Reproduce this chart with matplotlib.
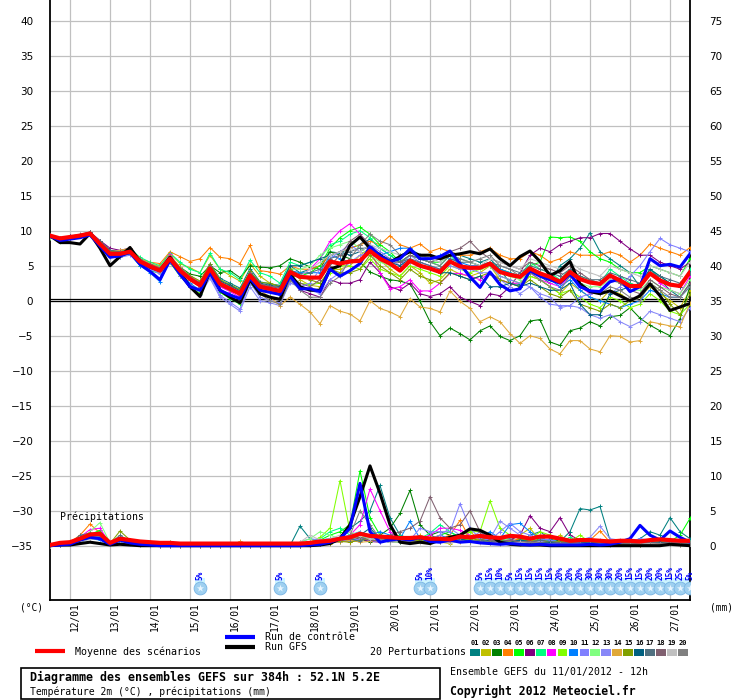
import numpy as np
import matplotlib
matplotlib.use('Agg')
import matplotlib.pyplot as plt
import matplotlib.transforms as mtransforms
from matplotlib.patches import Rectangle

# forecast steps (hours after 11/01/2012 12h), every 6h up to 384h
hours = np.arange(0, 385, 6)

day_hours = [12, 36, 60, 84, 108, 132, 156, 180, 204, 228, 252, 276, 300, 324, 348, 372]
day_labels = ['12/01', '13/01', '14/01', '15/01', '16/01', '17/01', '18/01', '19/01',
              '20/01', '21/01', '22/01', '23/01', '24/01', '25/01', '26/01', '27/01']

# 2m temperature (°C)
t_mean = [9.3, 8.9, 9.1, 9.3, 9.6, 8.1, 6.7, 6.7, 7.0, 5.6, 4.9, 4.3, 6.0, 4.3, 3.1, 2.2, 4.6, 2.4, 1.7, 1.0, 3.6, 2.0,
          1.7, 1.4, 4.1, 3.4, 3.3, 3.3, 5.6, 5.3, 5.6, 5.7, 7.1, 6.0, 5.3, 4.3, 5.7, 5.0, 4.6, 4.1, 5.6, 4.9, 4.7,
          4.7, 5.3, 4.1, 3.7, 3.4, 4.6, 3.9, 3.4, 2.7, 4.1, 3.1, 2.6, 2.4, 3.6, 2.9, 2.1, 2.1, 3.9, 2.9, 2.3, 2.1, 4.1]
t_gfs = [9.3, 8.3, 8.3, 8.1, 9.6, 7.5, 5.0, 6.3, 7.6, 5.6, 4.8, 4.3, 6.2, 4.0, 2.0, 0.6, 4.2, 1.5, 0.5, -0.3, 3.0, 1.0,
         0.5, 0.2, 3.8, 2.0, 1.5, 1.5, 4.5, 5.0, 7.9, 9.1, 7.5, 6.5, 5.5, 6.3, 7.0, 6.5, 6.5, 6.0, 6.5, 6.7, 7.0,
         6.7, 7.4, 6.0, 5.0, 6.3, 7.1, 5.6, 3.6, 4.3, 5.6, 2.4, 1.3, 1.0, 1.4, 0.7, 0.0, 0.7, 2.4, 0.7, -1.4, -0.9, -0.4]
t_ctrl = [9.2, 8.6, 8.8, 9.0, 9.4, 7.8, 6.2, 6.4, 6.9, 5.2, 4.2, 3.0, 5.8, 3.8, 2.0, 1.5, 4.0, 1.5, 0.8, 0.3, 3.2, 1.5,
          1.2, 0.9, 3.5, 1.7, 1.7, 1.3, 4.5, 3.5, 4.3, 5.3, 7.7, 6.4, 5.6, 6.0, 7.4, 6.0, 6.0, 6.3, 7.1, 5.3, 3.4,
          1.9, 4.1, 2.3, 1.4, 1.7, 4.3, 3.5, 3.0, 2.5, 3.8, 2.0, 1.4, 1.3, 2.7, 3.1, 1.3, 2.0, 6.0, 5.0, 5.2, 4.8, 6.7]

t01 = [9.3, 8.7, 9.0, 9.2, 9.7, 7.9, 6.5, 6.9, 7.2, 5.8, 5.0, 4.5, 6.3, 4.6, 3.3, 2.6, 5.2, 3.2, 2.5, 1.8, 4.6, 2.7,
       2.4, 2.2, 5.0, 4.0, 4.5, 5.0, 7.0, 6.8, 7.5, 8.0, 8.8, 7.5, 6.5, 5.5, 6.5, 6.0, 5.5, 6.0, 7.0, 6.5, 6.0,
       5.5, 6.0, 4.5, 2.5, 2.3, 4.0, 3.5, 2.5, 5.0, 6.0, 7.5, 9.7, 7.0, 6.0, 5.0, 4.0, 2.0, 4.5, 3.0, 1.5, 0.5, 2.5]
t02 = [9.2, 8.9, 9.2, 9.4, 9.5, 8.3, 7.0, 6.5, 6.8, 5.9, 5.3, 4.9, 6.8, 5.3, 4.7, 4.0, 6.5, 4.5, 3.6, 2.8, 5.3, 3.5,
       2.5, 2.0, 4.7, 3.0, 2.2, 2.0, 4.3, 4.5, 5.0, 6.5, 7.5, 5.8, 4.5, 3.5, 5.0, 4.0, 2.5, 3.0, 4.5, 3.8, 3.5,
       4.0, 5.0, 3.0, 2.5, 2.0, 3.5, 3.0, 2.0, 1.0, 2.5, 1.5, 0.5, 0.0, 1.5, 1.0, 0.0, 0.5, 2.0, 1.0, 0.0, -1.0, 1.5]
t03 = [9.3, 9.0, 9.1, 9.2, 9.8, 8.5, 7.2, 7.0, 7.2, 5.5, 4.8, 4.5, 6.2, 4.8, 3.8, 3.5, 5.0, 4.0, 4.3, 3.3, 5.0, 4.8,
       4.7, 5.0, 6.0, 5.5, 4.8, 4.5, 7.0, 6.5, 6.0, 5.5, 4.1, 3.5, 3.0, 2.8, 2.4, -0.1, -3.0, -5.0, -3.9, -4.7,
       -5.6, -4.3, -3.6, -5.1, -5.7, -5.0, -2.9, -2.7, -5.9, -6.4, -4.3, -3.9, -3.0, -3.6, -2.3, -2.1, -1.0, -2.5,
       -3.5, -4.3, -5.0, -2.6, 2.1]
t04 = [9.4, 9.0, 9.2, 9.3, 9.5, 8.2, 6.9, 7.0, 7.3, 6.0, 5.5, 5.3, 7.0, 6.3, 5.6, 6.0, 7.6, 6.2, 6.0, 5.3, 7.9, 4.3,
       4.1, 3.8, 5.0, 4.5, 4.5, 5.0, 6.5, 7.0, 7.5, 8.0, 8.5, 8.0, 9.3, 8.0, 7.5, 8.1, 7.0, 7.5, 7.0, 6.5, 6.5,
       7.0, 7.5, 6.5, 6.0, 6.0, 7.0, 6.5, 5.5, 6.0, 7.0, 6.5, 6.5, 6.5, 7.0, 6.5, 5.5, 6.5, 8.1, 7.5, 7.0, 6.5, 7.6]
t05 = [9.2, 8.5, 9.0, 9.3, 9.6, 8.0, 6.5, 6.3, 6.7, 5.0, 4.3, 3.9, 5.5, 3.5, 2.0, 1.0, 3.8, 1.2, 0.3, -0.5, 2.5, 1.0,
       0.5, 0.3, 3.5, 3.5, 4.0, 5.0, 7.5, 9.0, 10.0, 10.5, 9.5, 8.0, 7.0, 5.5, 6.5, 6.0, 5.5, 5.5, 6.5, 6.0, 5.5,
       5.0, 5.5, 4.5, 4.0, 3.5, 5.0, 5.5, 9.1, 9.0, 9.1, 8.5, 7.0, 6.0, 5.5, 4.5, 4.0, 4.0, 5.0, 4.5, 4.0, 3.5, 6.0]
t06 = [9.3, 9.0, 9.2, 9.4, 9.8, 8.6, 7.5, 7.2, 7.5, 6.0, 5.0, 4.6, 6.1, 4.5, 3.0, 2.0, 4.2, 2.0, 1.5, 0.8, 3.4, 1.8,
       1.5, 1.0, 3.5, 1.5, 1.0, 0.5, 3.0, 2.5, 2.5, 3.0, 5.5, 4.0, 2.0, 1.5, 2.5, 1.0, 0.6, 1.0, 2.0, 0.5, -0.1,
       -0.7, 1.0, 0.7, 2.0, 4.0, 6.5, 7.5, 7.0, 8.0, 8.5, 9.0, 9.0, 9.6, 9.6, 8.5, 7.4, 6.5, 6.5, 5.5, 5.0, 4.5, 5.5]
t07 = [9.2, 8.8, 9.0, 9.2, 9.5, 8.0, 6.8, 7.0, 7.4, 6.2, 5.5, 5.0, 6.8, 5.5, 4.5, 4.0, 6.8, 4.5, 4.0, 3.0, 5.8, 4.0,
       3.5, 2.5, 5.5, 5.0, 5.5, 6.0, 8.0, 8.5, 9.5, 10.0, 9.0, 7.5, 6.5, 5.5, 6.5, 6.0, 5.5, 5.0, 6.5, 5.0, 4.5,
       5.0, 5.5, 4.5, 4.0, 3.5, 5.5, 4.5, 4.0, 3.0, 4.5, 3.5, 3.0, 2.5, 4.5, 3.5, 2.5, 2.0, 4.5, 3.5, 2.5, 2.0, 4.5]
t08 = [9.3, 9.0, 9.2, 9.4, 9.6, 8.0, 6.6, 6.8, 7.1, 5.8, 5.0, 4.5, 6.7, 4.5, 3.0, 2.0, 4.5, 2.0, 1.3, 0.5, 3.5, 2.0,
       1.5, 1.2, 4.0, 3.5, 4.5, 6.0, 8.5, 10.0, 11.0, 9.5, 7.5, 4.0, 1.7, 2.0, 3.0, 1.4, 1.4, 2.5, 3.9, 3.9, 3.5,
       3.0, 4.0, 3.0, 2.5, 2.5, 4.0, 3.0, 2.5, 2.0, 3.5, 2.0, 1.0, 1.5, 3.0, 2.5, 2.0, 2.0, 4.0, 2.5, 1.5, 1.0, 3.5]
t09 = [9.2, 8.8, 9.0, 9.3, 9.5, 8.0, 6.6, 6.6, 6.8, 5.4, 4.6, 4.0, 5.5, 3.6, 2.4, 1.3, 4.0, 1.5, 0.5, -0.2, 3.0, 1.0,
       0.5, 0.2, 3.4, 2.5, 2.3, 2.5, 4.0, 5.0, 5.0, 4.5, 6.0, 4.5, 4.0, 3.5, 5.0, 4.5, 4.0, 3.5, 5.0, 4.5, 4.0,
       4.5, 5.0, 3.5, 3.0, 2.5, 3.5, 3.0, 2.0, 1.0, 1.5, 0.5, -0.5, -1.0, 0.5, 0.0, -1.0, -0.5, 1.0, 0.0, -1.5, -2.0,
       -0.5]
t10 = [9.3, 8.9, 9.1, 9.3, 9.5, 7.9, 6.4, 6.5, 6.7, 5.0, 4.0, 2.7, 5.8, 4.0, 2.5, 1.5, 4.0, 1.5, 1.0, 0.2, 3.2, 1.5,
       1.2, 0.8, 4.3, 4.0, 4.0, 4.0, 6.5, 6.0, 5.5, 5.8, 7.0, 6.5, 7.0, 7.5, 7.5, 6.5, 6.0, 6.5, 6.0, 5.5, 5.0,
       5.0, 5.5, 4.5, 4.0, 3.5, 4.5, 3.5, 3.0, 2.0, 3.0, 1.5, 0.5, 0.0, -0.5, -1.0, -0.5, 0.0, 1.5, 1.0, 0.5, 0.5, 2.0]
t11 = [9.3, 8.8, 9.0, 9.2, 9.4, 7.7, 6.3, 6.2, 6.5, 5.2, 4.5, 4.0, 5.6, 3.8, 2.3, 1.4, 3.5, 0.8, -0.2, -1.2, 2.6, 0.5,
       0.0, -0.3, 2.5, 2.0, 2.5, 4.5, 6.0, 7.0, 8.0, 7.0, 8.0, 7.0, 6.0, 5.0, 6.5, 5.5, 5.0, 4.5, 5.5, 4.5, 4.5,
       5.0, 5.0, 3.5, 3.0, 2.5, 2.0, 0.5, -0.5, -0.7, -0.7, 0.5, 1.0, 1.5, 1.0, 2.0, 3.5, 5.0, 7.0, 8.9, 8.0, 7.5, 7.0]
t12 = [9.0, 8.4, 8.9, 9.3, 9.5, 8.0, 6.6, 6.8, 7.0, 5.5, 4.8, 4.2, 5.9, 4.3, 3.2, 2.5, 4.8, 2.6, 1.8, 1.2, 3.6, 2.2,
       1.8, 1.5, 4.5, 4.5, 5.0, 6.5, 7.5, 8.0, 8.5, 7.5, 6.5, 5.5, 5.0, 4.5, 5.5, 5.0, 4.5, 4.0, 5.5, 5.0, 4.8,
       4.5, 5.0, 4.0, 3.5, 3.0, 4.0, 3.5, 3.0, 2.5, 3.5, 2.5, 2.0, 2.0, 3.0, 2.5, 1.5, 1.5, 3.0, 2.0, 1.5, 1.0, 3.0]
t13 = [9.3, 8.9, 9.1, 9.3, 9.7, 8.2, 6.8, 6.5, 6.8, 5.5, 4.5, 3.8, 5.8, 3.5, 2.0, 0.8, 3.2, 0.5, -0.5, -1.5, 2.0, 0.0,
       -0.3, -0.7, 2.8, 2.0, 1.5, 1.0, 3.0, 4.0, 5.5, 6.5, 7.0, 6.0, 5.5, 5.0, 5.5, 5.5, 5.0, 4.5, 5.0, 4.5, 4.5,
       4.0, 4.0, 3.0, 2.0, 1.0, 2.0, 1.0, 0.5, -1.0, -0.7, -1.0, -2.0, -2.5, -2.0, -3.0, -3.7, -3.0, -1.5, -2.0,
       -2.5, -3.0, -1.0]
t14 = [9.3, 8.8, 9.1, 9.4, 9.6, 8.3, 7.0, 7.2, 7.5, 6.0, 5.3, 4.8, 6.5, 4.8, 3.5, 2.8, 5.0, 2.8, 2.2, 1.5, 3.8, 1.5,
       0.5, -0.7, 0.5, -0.5, -1.6, -3.3, -0.7, -1.5, -1.9, -2.9, 0.0, -1.1, -1.6, -2.3, 0.3, -0.9, -1.1, -1.6, 1.4,
       -0.1, -1.1, -3.0, -2.3, -3.0, -4.7, -6.1, -5.0, -5.4, -6.9, -7.6, -5.7, -5.7, -6.9, -7.3, -5.0, -5.1, -5.9,
       -5.7, -3.0, -3.3, -3.6, -3.7, -0.4]
t15 = [9.3, 8.9, 9.0, 9.2, 9.6, 8.4, 7.1, 6.9, 7.0, 5.7, 5.2, 4.6, 6.2, 4.6, 3.6, 2.8, 5.3, 3.0, 2.3, 1.6, 4.2, 2.6,
       2.5, 2.0, 4.5, 3.5, 3.0, 2.5, 4.5, 4.0, 4.0, 4.5, 6.5, 5.0, 4.0, 3.0, 4.5, 3.5, 3.0, 2.5, 4.0, 3.5, 3.0,
       3.5, 4.0, 3.0, 2.5, 2.0, 3.0, 2.0, 1.0, 0.5, 1.5, -0.5, -1.0, -1.5, -0.5, -1.0, 0.0, 0.5, 2.5, 1.5, -0.5,
       -2.0, 1.0]
t16 = [9.4, 9.0, 9.2, 9.3, 9.7, 8.0, 6.5, 6.8, 7.1, 5.6, 4.9, 4.4, 6.1, 4.4, 3.2, 2.4, 5.0, 2.8, 2.2, 1.4, 4.0, 2.5,
       2.2, 2.0, 5.0, 5.0, 5.5, 6.0, 6.5, 7.0, 6.5, 7.0, 8.0, 6.5, 5.5, 5.0, 6.0, 5.0, 4.5, 4.0, 4.0, 3.5, 3.0,
       3.5, 2.0, 2.0, 2.5, 2.0, 2.5, 2.0, 1.5, 1.5, 2.5, -0.5, -2.0, -2.0, 1.0, 1.5, 2.0, 2.5, 4.5, 3.5, 2.5, 2.0, 4.0]
t17 = [9.3, 8.8, 9.0, 9.4, 9.8, 8.5, 7.2, 7.0, 7.2, 5.8, 5.1, 4.6, 6.3, 4.6, 3.3, 2.5, 4.8, 2.6, 1.9, 1.2, 3.8, 2.3,
       2.0, 1.8, 4.3, 3.8, 4.0, 4.5, 6.0, 6.5, 7.0, 7.5, 7.5, 6.5, 6.0, 5.5, 6.0, 5.5, 5.0, 4.5, 6.0, 5.5, 5.5,
       5.0, 5.5, 5.0, 4.5, 4.0, 5.0, 4.5, 4.0, 3.5, 4.5, 3.5, 3.0, 3.0, 4.0, 3.5, 3.0, 2.5, 4.0, 3.5, 3.0, 2.5, 4.0]
t18 = [9.3, 8.9, 9.2, 9.5, 9.8, 8.3, 6.9, 6.9, 7.2, 5.9, 5.2, 4.7, 6.4, 4.7, 3.4, 2.6, 4.9, 2.7, 2.0, 1.3, 3.9, 2.4,
       2.1, 1.9, 3.5, 2.5, 2.0, 3.0, 5.0, 6.5, 8.5, 9.5, 8.0, 6.5, 5.5, 5.5, 6.5, 6.0, 5.5, 6.0, 7.0, 7.5, 8.5,
       7.0, 6.0, 5.5, 5.0, 4.5, 5.5, 5.0, 4.5, 4.0, 5.0, 4.0, 3.0, 2.5, 3.5, 2.5, 1.5, 1.0, 3.0, 2.0, 1.0, 0.5, 2.5]
t19 = [9.3, 8.9, 9.1, 9.3, 9.5, 8.0, 6.7, 6.6, 6.9, 5.5, 4.8, 4.3, 6.0, 4.2, 3.0, 2.1, 4.4, 2.2, 1.6, 0.9, 3.5, 2.0,
       1.6, 1.3, 4.0, 3.5, 4.5, 5.5, 6.5, 7.0, 7.5, 7.0, 8.0, 7.5, 7.0, 6.5, 7.0, 6.5, 6.0, 5.5, 6.5, 6.0, 5.5,
       5.0, 6.0, 5.5, 5.0, 4.5, 6.0, 5.5, 5.0, 4.5, 5.5, 4.5, 4.0, 3.5, 5.0, 4.5, 4.0, 3.5, 5.0, 4.5, 4.0, 3.5, 5.5]
t20 = [9.3, 8.9, 9.1, 9.3, 9.6, 8.2, 6.8, 6.7, 7.0, 5.6, 4.9, 4.3, 6.0, 4.2, 3.0, 2.0, 4.5, 2.2, 1.5, 0.8, 3.4, 1.0,
       0.0, -0.5, 3.0, 1.5, 0.5, 0.5, 2.5, 3.5, 6.0, 8.0, 9.5, 8.5, 8.0, 6.5, 7.0, 6.0, 5.5, 5.0, 6.5, 6.0, 5.5,
       6.0, 6.5, 5.0, 4.5, 3.5, 4.0, 3.0, 2.0, 1.5, 3.5, 2.5, 1.5, 1.0, 2.0, 1.5, 0.5, 0.0, 2.5, 1.5, 0.5, 0.5, 2.0]

# precipitation (mm per 6h)
p_mean = [0.1, 0.4, 0.5, 1.0, 1.6, 1.7, 0.4, 1.0, 0.8, 0.6, 0.5, 0.4, 0.4, 0.3, 0.3, 0.3, 0.3, 0.3, 0.3, 0.3, 0.3,
          0.3, 0.3, 0.3, 0.3, 0.3, 0.4, 0.6, 0.7, 1.0, 1.2, 1.7, 1.4, 1.3, 1.2, 1.1, 1.1, 1.2, 1.0, 1.0, 0.9, 1.3,
          1.2, 1.4, 1.2, 1.1, 1.4, 1.3, 1.0, 1.3, 1.3, 1.0, 0.7, 0.8, 0.8, 0.7, 0.6, 0.7, 0.7, 0.6, 0.8, 0.9, 0.8,
          0.7, 0.7]
p_gfs = [0, 0.1, 0.1, 0.3, 0.5, 0.3, 0.1, 0.2, 0.1, 0, 0, 0, 0, 0, 0, 0, 0, 0, 0, 0, 0, 0, 0, 0, 0, 0, 0, 0.1, 0.3,
         1.0, 3.0, 7.0, 11.4, 7.5, 3.0, 0.5, 0.3, 0.5, 0.3, 0.8, 1.2, 1.5, 2.4, 2.2, 1.5, 0.5, 0.2, 0.1, 0.1, 0.1,
         0, 0, 0, 0, 0, 0, 0, 0, 0, 0, 0, 0, 0.2, 0.1, 0]
p_ctrl = [0, 0.1, 0.2, 0.8, 1.2, 1.0, 0.2, 0.8, 0.4, 0.2, 0.1, 0, 0, 0, 0, 0, 0, 0, 0, 0, 0, 0, 0, 0, 0, 0, 0.1, 0.2,
          0.5, 1.0, 2.5, 8.9, 2.0, 0.5, 0.8, 1.0, 0.8, 1.2, 0.6, 0.5, 0.8, 0.5, 0.6, 0.4, 0.3, 0.2, 0.3, 0.2, 0.1,
          0.2, 0.1, 0.1, 0.1, 0.1, 0.2, 0.1, 0.2, 0.5, 1.0, 2.9, 1.5, 0.8, 2.1, 1.2, 0.5]

p01 = [0, 0.2, 0.4, 1.2, 1.5, 2.0, 0.3, 1.2, 0.6, 0.3, 0.2, 0.1, 0, 0, 0, 0, 0, 0, 0, 0, 0, 0, 0, 0, 0, 2.8, 1.0, 0.5,
       1.0, 0.8, 2.5, 3.5, 5.0, 8.6, 4.0, 1.5, 1.0, 0.8, 1.5, 1.0, 0.5, 0.8, 1.2, 1.0, 0.6, 0.8, 1.0, 0.5, 1.5,
       2.0, 1.0, 0.6, 2.0, 5.3, 5.1, 5.6, 0.8, 0.6, 0.4, 1.0, 2.0, 1.5, 4.0, 2.0, 1.0]
p02 = [0, 0.1, 0.3, 0.8, 1.2, 1.2, 0.2, 0.9, 0.5, 0.2, 0.1, 0, 0, 0, 0, 0, 0, 0, 0, 0, 0, 0, 0, 0, 0, 0, 0.2, 0.5,
       0.3, 0.8, 0.5, 1.2, 0.8, 1.0, 1.5, 0.8, 0.5, 1.5, 0.8, 0.5, 0.3, 0.8, 2.0, 0.8, 1.0, 0.5, 0.8, 1.5, 2.5,
       0.8, 0.5, 1.5, 0.5, 0.3, 0.2, 0.3, 0.2, 0.5, 0.4, 0.2, 0.5, 0.8, 0.3, 0.5, 0.4]
p03 = [0, 0.1, 0.3, 0.9, 1.3, 1.5, 0.2, 1.0, 0.4, 0.2, 0.1, 0, 0, 0, 0, 0, 0, 0, 0, 0, 0, 0, 0, 0, 0, 0, 0.1, 0.3,
       0.5, 0.6, 0.8, 1.0, 0.5, 1.5, 2.5, 4.6, 7.9, 3.0, 1.5, 2.0, 1.5, 1.0, 0.5, 0.8, 1.2, 0.8, 0.5, 1.0, 0.6,
       0.8, 1.5, 0.5, 0.8, 0.3, 0.2, 0.2, 0.3, 0.2, 0.2, 0.1, 0.3, 0.5, 0.3, 0.2, 0.5]
p04 = [0, 0.2, 0.5, 1.5, 3.1, 1.8, 0.3, 1.0, 0.5, 0.3, 0.2, 0.1, 0.1, 0.1, 0.1, 0.3, 0, 0, 0, 0, 0, 0, 0, 0, 0, 0,
       0.2, 0.3, 0.5, 0.8, 0.5, 1.0, 1.5, 0.8, 0.5, 0.8, 1.0, 0.5, 0.8, 1.0, 1.5, 3.6, 1.0, 1.2, 0.8, 0.5, 0.6,
       1.0, 0.8, 0.5, 0.6, 0.3, 0.5, 0.2, 0.8, 2.1, 0.5, 0.3, 0.2, 0.3, 0.5, 1.0, 0.4, 0.3, 0.2]
p05 = [0, 0.1, 0.3, 1.0, 1.6, 2.2, 0.4, 1.0, 0.5, 0.2, 0.1, 0, 0, 0, 0, 0, 0, 0, 0, 0, 0, 0, 0, 0, 0, 0.1, 0.3, 0.8,
       1.5, 2.0, 3.0, 10.7, 4.0, 1.5, 0.8, 1.5, 0.8, 0.5, 1.0, 1.5, 2.0, 1.2, 0.8, 0.5, 1.0, 0.8, 0.5, 0.6, 1.2,
       0.8, 1.5, 0.8, 0.6, 0.5, 0.4, 0.5, 0.3, 0.6, 0.5, 0.4, 0.8, 1.0, 0.6, 1.5, 3.9]
p06 = [0, 0.1, 0.3, 0.8, 1.4, 1.5, 0.2, 0.8, 0.4, 0.2, 0.1, 0, 0, 0, 0, 0, 0, 0, 0, 0, 0, 0, 0, 0, 0, 0, 0.1, 0.2,
       0.4, 0.6, 0.8, 1.0, 0.6, 0.5, 0.8, 1.0, 0.5, 0.8, 1.0, 0.6, 0.5, 0.8, 1.0, 1.2, 0.8, 1.0, 0.8, 1.5, 4.3,
       2.5, 2.0, 4.0, 1.5, 0.8, 0.5, 0.3, 0.5, 0.4, 0.3, 0.2, 0.5, 0.8, 0.5, 0.3, 0.4]
p07 = [0, 0.1, 0.2, 0.7, 1.1, 1.3, 0.2, 0.7, 0.4, 0.2, 0.1, 0, 0, 0, 0, 0, 0, 0, 0, 0, 0, 0, 0, 0, 0, 0.2, 0.4, 1.0,
       2.0, 2.5, 1.5, 2.0, 1.0, 0.8, 0.5, 1.5, 0.8, 1.0, 1.8, 3.0, 2.0, 1.0, 0.8, 0.5, 1.0, 0.6, 0.8, 0.5, 1.0,
       0.5, 0.8, 0.5, 1.2, 0.4, 0.3, 0.3, 0.5, 0.3, 0.2, 0.2, 0.3, 0.4, 0.5, 0.3, 0.4]
p08 = [0, 0.2, 0.4, 1.2, 2.3, 2.5, 0.3, 1.2, 0.5, 0.3, 0.2, 0, 0, 0, 0, 0, 0, 0, 0, 0, 0, 0, 0, 0, 0, 0, 0.1, 0.3,
       0.8, 1.0, 1.5, 3.0, 8.1, 5.0, 2.0, 0.8, 0.5, 1.0, 1.5, 2.5, 2.5, 2.2, 1.5, 1.0, 0.8, 0.5, 0.8, 0.6, 0.4,
       0.8, 0.5, 0.3, 0.4, 0.3, 0.2, 0.2, 0.3, 0.2, 0.1, 0.2, 0.3, 0.4, 0.2, 0.3, 0.2]
p09 = [0, 0.1, 0.3, 0.9, 1.3, 1.6, 0.3, 0.9, 0.5, 0.2, 0.1, 0, 0, 0, 0, 0, 0, 0, 0, 0, 0, 0, 0, 0, 0, 0.2, 0.5, 1.2,
       2.5, 9.3, 2.0, 1.0, 1.5, 0.8, 0.6, 0.5, 1.0, 0.8, 0.6, 0.8, 1.0, 1.5, 2.0, 2.0, 6.4, 2.5, 1.5, 1.0, 0.8,
       2.0, 1.5, 0.8, 0.6, 1.5, 0.5, 0.3, 0.8, 0.5, 0.4, 0.3, 0.4, 0.5, 0.6, 0.4, 0.5]
p10 = [0, 0.2, 0.3, 0.5, 1.0, 0.8, 0.2, 0.5, 0.3, 0.1, 0, 0, 0, 0, 0, 0, 0, 0, 0, 0, 0, 0, 0, 0, 0, 0.3, 0.5, 0.8,
       1.0, 0.5, 1.0, 0.8, 1.5, 2.0, 1.5, 1.0, 3.5, 1.0, 0.8, 1.5, 1.0, 0.8, 1.5, 1.2, 2.0, 1.0, 3.0, 3.2, 2.0,
       1.0, 0.8, 0.5, 0.3, 0.5, 0.4, 0.3, 0.2, 0.3, 0.5, 1.0, 0.5, 0.8, 0.5, 0.4, 0.3]
p11 = [0, 0.1, 0.3, 0.8, 1.2, 1.3, 0.2, 0.8, 0.4, 0.2, 0.1, 0, 0, 0, 0, 0, 0, 0, 0, 0, 0, 0, 0, 0, 0, 0.5, 1.0, 0.8,
       0.5, 0.8, 0.6, 1.0, 0.8, 0.5, 0.8, 1.0, 0.8, 2.5, 2.0, 2.0, 2.0, 6.0, 2.5, 1.0, 0.8, 2.0, 3.2, 2.0, 1.5,
       1.0, 0.8, 0.5, 0.6, 0.4, 0.5, 0.8, 0.5, 0.4, 0.6, 1.0, 0.8, 0.5, 0.4, 0.3, 0.5]
p12 = [0, 0.1, 0.3, 1.0, 2.0, 3.3, 0.4, 1.2, 0.6, 0.3, 0.2, 0.1, 0, 0, 0, 0, 0, 0, 0, 0, 0, 0, 0, 0, 0, 0.5, 1.0, 2.0,
       1.5, 1.0, 0.8, 1.5, 1.0, 0.8, 0.6, 0.5, 0.8, 1.0, 0.6, 0.5, 0.8, 1.0, 1.5, 0.8, 0.6, 1.0, 0.8, 0.5, 0.6,
       0.4, 0.5, 0.4, 0.3, 0.3, 0.2, 0.3, 0.2, 0.3, 0.2, 0.2, 0.3, 0.4, 0.3, 0.2, 0.3]
p13 = [0, 0.1, 0.2, 0.6, 1.0, 1.0, 0.2, 0.6, 0.3, 0.1, 0, 0, 0, 0, 0, 0, 0, 0, 0, 0, 0, 0, 0, 0, 0, 0.3, 0.5, 0.8,
       1.0, 1.2, 1.5, 2.0, 1.2, 0.8, 0.5, 0.8, 0.6, 1.2, 1.0, 1.5, 2.5, 1.5, 1.0, 2.0, 1.0, 3.5, 2.5, 1.5, 1.0,
       0.6, 0.5, 0.4, 0.6, 0.8, 1.2, 2.8, 1.0, 0.8, 0.5, 0.4, 0.5, 0.4, 0.3, 0.4, 0.3]
p14 = [0, 0.1, 0.3, 0.8, 1.2, 1.2, 0.2, 0.8, 0.4, 0.2, 0.1, 0, 0, 0, 0, 0, 0, 0, 0, 0.6, 0.2, 0, 0, 0, 0, 0, 0.2,
       0.4, 0.6, 0.5, 0.8, 0.5, 0.6, 1.0, 0.8, 0.5, 0.8, 0.6, 0.4, 0.6, 0.8, 0.5, 0.6, 0.8, 0.5, 0.4, 0.6, 0.5,
       0.3, 0.5, 0.3, 0.2, 0.3, 0.2, 0.3, 0.2, 0.3, 0.2, 0.2, 0.1, 0.2, 0.3, 0.2, 0.1, 0.2]
p15 = [0, 0.1, 0.3, 0.9, 1.5, 1.8, 0.3, 2.1, 0.8, 0.4, 0.3, 0.2, 0.5, 0.2, 0.1, 0.1, 0, 0, 0, 0, 0, 0, 0, 0, 0, 0,
       0.2, 0.5, 0.8, 0.6, 0.5, 0.8, 1.0, 0.6, 0.8, 1.0, 0.6, 0.8, 1.2, 0.8, 0.6, 0.8, 1.0, 0.8, 1.2, 0.8, 1.5,
       1.0, 0.6, 0.8, 0.5, 0.6, 0.4, 0.3, 0.5, 0.4, 0.3, 0.5, 0.4, 0.3, 0.5, 0.6, 0.4, 0.3, 0.4]
p16 = [0, 0.1, 0.2, 0.7, 1.0, 1.2, 0.2, 0.8, 0.4, 0.2, 0.1, 0, 0, 0, 0, 0, 0, 0, 0, 0, 0, 0, 0, 0, 0, 0, 0.2, 0.4,
       1.0, 0.8, 1.0, 1.5, 2.5, 1.0, 0.8, 0.5, 0.8, 1.0, 0.8, 0.6, 0.8, 1.0, 0.6, 0.5, 0.8, 0.6, 0.5, 0.8, 0.6,
       0.4, 0.5, 0.4, 0.3, 0.4, 0.5, 0.3, 0.4, 0.3, 0.2, 0.3, 0.4, 0.5, 0.3, 0.2, 0.3]
p17 = [0, 0.1, 0.3, 1.5, 1.8, 1.6, 0.3, 1.5, 0.6, 0.3, 0.2, 0.1, 0, 0, 0, 0, 0, 0, 0, 0, 0, 0, 0, 0, 0, 0, 0.1, 0.3,
       0.4, 0.8, 1.0, 0.6, 1.5, 0.8, 0.5, 0.6, 0.8, 0.5, 0.6, 1.0, 0.8, 0.6, 0.5, 0.8, 0.6, 0.5, 0.4, 0.6, 0.5,
       0.8, 0.6, 0.4, 0.5, 0.3, 0.4, 0.3, 0.2, 0.3, 0.4, 0.3, 0.5, 0.4, 0.3, 0.3, 0.2]
p18 = [0, 0.1, 0.2, 0.8, 1.1, 1.3, 0.2, 0.8, 0.4, 0.2, 0.1, 0, 0, 0, 0, 0, 0, 0, 0, 0, 0, 0, 0, 0, 0, 0, 0.1, 0.3,
       0.5, 0.8, 1.0, 1.2, 0.8, 0.6, 1.5, 2.0, 2.5, 3.5, 7.0, 4.0, 2.5, 3.0, 5.0, 2.0, 0.8, 0.6, 0.8, 0.5, 0.6,
       0.4, 0.3, 0.4, 0.3, 0.2, 0.3, 0.2, 0.3, 0.2, 0.3, 0.2, 0.4, 0.3, 0.5, 0.3, 0.2]
p19 = [0, 0.1, 0.2, 0.6, 0.9, 1.0, 0.1, 0.6, 0.3, 0.1, 0, 0, 0, 0, 0, 0, 0, 0, 0, 0, 0, 0, 0, 0, 0, 0.5, 1.5, 0.8,
       1.0, 1.5, 2.0, 1.5, 1.0, 0.8, 0.5, 0.6, 0.5, 0.4, 0.6, 0.5, 0.4, 0.6, 0.5, 0.4, 0.3, 0.4, 0.3, 0.5, 0.4,
       0.3, 0.3, 0.2, 0.3, 0.2, 0.2, 0.2, 0.3, 0.2, 0.1, 0.2, 0.3, 0.2, 0.2, 0.1, 0.2]
p20 = [0, 0.1, 0.3, 1.0, 1.4, 1.5, 0.3, 1.0, 0.5, 0.2, 0.1, 0, 0, 0, 0, 0, 0, 0, 0, 0, 0, 0, 0, 0, 0, 0, 0.2, 0.3,
       0.5, 0.8, 1.5, 5.0, 3.0, 1.0, 0.6, 0.8, 0.5, 0.6, 0.8, 0.5, 0.6, 0.8, 0.5, 0.6, 0.4, 0.3, 0.4, 0.3, 0.5,
       0.4, 0.3, 0.2, 0.3, 0.2, 0.1, 0.2, 0.1, 0.2, 0.1, 0.1, 0.2, 0.3, 0.2, 0.1, 0.2]

member_names = ['01', '02', '03', '04', '05', '06', '07', '08', '09', '10',
                '11', '12', '13', '14', '15', '16', '17', '18', '19', '20']
member_colors = ['#008080', '#c0c000', '#008000', '#ff8000', '#00ff00', '#800080', '#00ff80', '#ff00ff',
                 '#80ff00', '#0080ff', '#8080ff', '#80ff80', '#8888f8', '#e0a838', '#80a000', '#006080',
                 '#507080', '#806070', '#c0c0c0', '#808080']
member_temps = [t01, t02, t03, t04, t05, t06, t07, t08, t09, t10, t11, t12, t13, t14, t15, t16, t17, t18, t19, t20]
member_precs = [p01, p02, p03, p04, p05, p06, p07, p08, p09, p10, p11, p12, p13, p14, p15, p16, p17, p18, p19, p20]

# snow probability
snow_hours = [90, 138, 162, 222, 228, 258, 264, 270, 276, 282, 288, 294, 300, 306, 312, 318, 324, 330, 336, 342,
              348, 354, 360, 366, 372, 378, 384]
snow_pct = ['5%', '5%', '5%', '5%', '10%', '5%', '15%', '10%', '5%', '15%', '15%', '15%', '15%', '20%', '20%',
            '20%', '30%', '30%', '30%', '20%', '15%', '15%', '20%', '20%', '15%', '25%', '5%']

MONO = 'DejaVu Sans Mono'
Y_LO, Y_HI = -42.76, 42.96

fig = plt.figure(figsize=(7.4, 7.0), dpi=100)
ax = fig.add_axes([50 / 740, 100 / 700, 640 / 740, 600 / 700])
ax.set_xlim(0, 384)
ax.set_ylim(Y_LO, Y_HI)

ax.set_xticks(day_hours)
ax.set_xticklabels(day_labels, rotation=90, family=MONO, fontsize=6.9, ha='left')
offset = mtransforms.ScaledTranslation(2 / 100, 0, fig.dpi_scale_trans)
for lab in ax.get_xticklabels():
    lab.set_transform(lab.get_transform() + offset)
ax.set_yticks(range(-35, 41, 5))
ax.tick_params(axis='y', length=0, pad=12, labelsize=7.5)
ax.tick_params(axis='x', length=0, pad=1.5)
ax.grid(True, color='#c0c0c0', lw=0.9)
ax.set_axisbelow(True)
for side in ['left', 'right', 'bottom']:
    ax.spines[side].set_linewidth(1.3)
ax.spines['top'].set_visible(False)

# double zero line
ax.axhline(0.3, color='black', lw=0.9, zorder=2)
ax.axhline(-0.1, color='black', lw=0.9, zorder=2)

for temps, col in zip(member_temps, member_colors):
    ax.plot(hours, temps, color=col, lw=0.75, marker='+', ms=3, mew=0.7, zorder=3)
ax.plot(hours, t_gfs, color='black', lw=2.2, zorder=4)
ax.plot(hours, t_ctrl, color='#0000ff', lw=2.2, zorder=5)
ax.plot(hours, t_mean, color='#ff0000', lw=3.0, zorder=6)

# precipitation on the right scale
ax2 = ax.twinx()
ax2.set_ylim(Y_LO + 35, Y_HI + 35)
ax2.set_yticks(range(0, 76, 5))
ax2.tick_params(axis='y', length=0, pad=14, labelsize=7.5)
for side in ['left', 'right', 'bottom', 'top']:
    ax2.spines[side].set_visible(False)
for precs, col in zip(member_precs, member_colors):
    ax2.plot(hours, precs, color=col, lw=0.75, marker='+', ms=3, mew=0.7, zorder=3)
ax2.plot(hours, p_gfs, color='black', lw=2.2, zorder=4)
ax2.plot(hours, p_ctrl, color='#0000ff', lw=2.2, zorder=5)
ax2.plot(hours, p_mean, color='#ff0000', lw=3.0, zorder=6)

# snow icons with probabilities
ax.bar(snow_hours, 0.9, bottom=-40.5, width=6, color='#ccf4ff', zorder=2)
ax.scatter(snow_hours, [-41.1] * len(snow_hours), s=85, facecolor='#9fd0f0', edgecolor='#78b4e4',
           lw=0.6, zorder=7)
ax.scatter(snow_hours, [-41.1] * len(snow_hours), s=30, marker='*', color='#e8f6ff', lw=0, zorder=8)
for h, pct in zip(snow_hours, snow_pct):
    ax.text(h, -39.9, pct, rotation=90, ha='center', va='bottom', color='#0000ff', fontsize=5.6,
            family=MONO, fontweight='bold', zorder=9)

# pixel-space overlay for labels, legend and title
lay = fig.add_axes([0, 0, 1, 1])
lay.set_xlim(0, 740)
lay.set_ylim(700, 0)
lay.axis('off')

lay.text(60, 516.5, 'Précipitations', family=MONO, fontsize=7.1, va='center')
lay.text(20, 607, '(°C)', family=MONO, fontsize=6.9, va='center')
lay.text(710, 607, '(mm)', family=MONO, fontsize=6.9, va='center')

lay.plot([35, 65], [651, 651], color='#ff0000', lw=3.0, solid_capstyle='butt')
lay.text(75, 651.5, 'Moyenne des scénarios', family=MONO, fontsize=7.2, va='center')
lay.plot([225, 255], [637, 637], color='#0000ff', lw=3.0, solid_capstyle='butt')
lay.plot([225, 255], [647, 647], color='black', lw=3.0, solid_capstyle='butt')
lay.text(265, 637, 'Run de contrôle', family=MONO, fontsize=7.1, va='center')
lay.text(265, 647.5, 'Run GFS', family=MONO, fontsize=7.1, va='center')
lay.text(370, 652, '20 Perturbations', family=MONO, fontsize=7.2, va='center')
for i, (name, col) in enumerate(zip(member_names, member_colors)):
    x0 = 470 + i * 10.95
    lay.add_patch(Rectangle((x0, 649), 9.8, 7, facecolor=col, edgecolor='none'))
    lay.text(x0 + 4.9, 643, name, family=MONO, fontsize=5.0, fontweight='bold', ha='center', va='center')

lay.add_patch(Rectangle((20.5, 667.5), 419.5, 31.5, facecolor='none', edgecolor='black', lw=1.2))
lay.text(30, 677.5, 'Diagramme des ensembles GEFS sur 384h : 52.1N 5.2E', family=MONO, fontsize=8.4,
         fontweight='bold', va='center')
lay.text(30, 691.5, 'Température 2m (°C) , précipitations (mm)', family=MONO, fontsize=7.0, va='center')
lay.text(450, 672.5, 'Ensemble GEFS du 11/01/2012 - 12h', family=MONO, fontsize=7.15, va='center')
lay.text(450, 691, 'Copyright 2012 Meteociel.fr', family=MONO, fontsize=8.3, fontweight='bold', va='center')

fig.savefig('out.png', dpi=100)
